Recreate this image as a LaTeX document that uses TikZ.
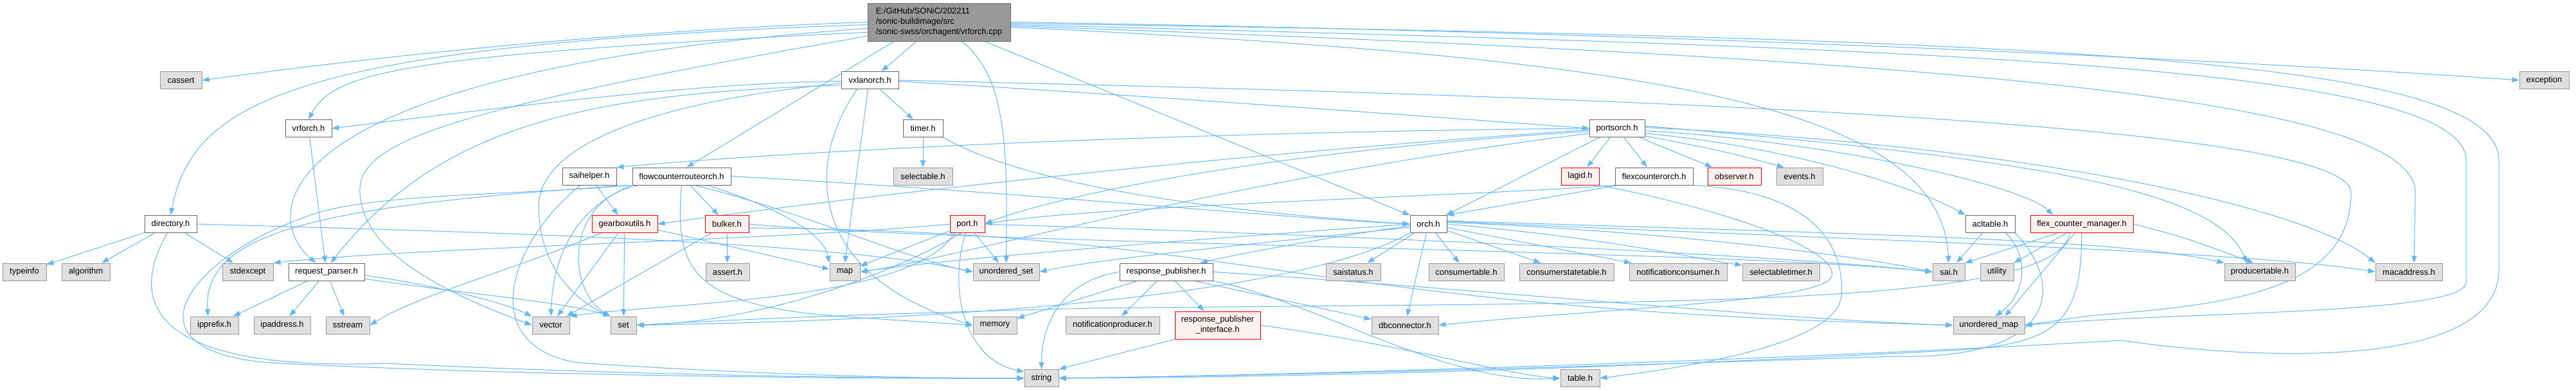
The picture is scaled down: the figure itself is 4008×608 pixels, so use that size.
\documentclass[tikz,border=0pt]{standalone}
\usepackage{fontspec}
\setmainfont{Liberation Sans}
\usetikzlibrary{arrows.meta}
\definecolor{edgec}{HTML}{63B8FF}
\definecolor{extfill}{HTML}{E0E0E0}
\definecolor{extdraw}{HTML}{999999}
\definecolor{docdraw}{HTML}{666666}
\definecolor{trfill}{HTML}{FFF0F0}
\definecolor{trdraw}{HTML}{FF0000}
\definecolor{mainfill}{HTML}{999999}
\pgfdeclarelayer{bg}
\pgfsetlayers{bg,main}
\begin{document}
\begin{tikzpicture}[x=1pt,y=-1pt,
  nbase/.style={draw, line width=1pt, inner sep=0pt, minimum height=27pt, font=\fontsize{13}{16}\selectfont},
  ext/.style={nbase, fill=extfill, draw=extdraw},
  doc/.style={nbase, fill=white, draw=docdraw},
  trn/.style={nbase, fill=trfill, draw=trdraw},
  e/.style={draw=edgec, line width=1pt, -{Triangle[length=11pt,width=8pt]}}]
\useasboundingbox (0,0) rectangle (4008,608);
% ---------- nodes ----------
\node[nbase, fill=mainfill, draw=docdraw, minimum width=222pt, minimum height=59pt, align=left] (top) at (1461,34.5) {E:/GitHub/SONiC/202211\\/sonic-buildimage/src\\/sonic-swss/orchagent/vrforch.cpp};
% row A
\node[ext, minimum width=65pt] (cassert) at (281.5,125) {cassert};
\node[doc, minimum width=89pt] (vxlan) at (1353.5,125) {vxlanorch.h};
\node[ext, minimum width=77pt] (exc) at (3958.5,125) {exception};
% row B
\node[doc, minimum width=72pt] (vrf) at (480,200) {vrforch.h};
\node[doc, minimum width=62pt] (timer) at (1436,200) {timer.h};
\node[doc, minimum width=86pt] (ports) at (2516,200) {portsorch.h};
% row C
\node[doc, minimum width=84pt] (saihlp) at (917,274.5) {saihelper.h};
\node[doc, minimum width=153pt] (fcr) at (1060.5,274.5) {flowcounterrouteorch.h};
\node[ext, minimum width=92pt] (selectable) at (1436,274.5) {selectable.h};
\node[trn, minimum width=59pt] (lagid) at (2458.5,274.5) {lagid.h};
\node[doc, minimum width=121pt] (fco) at (2573.5,274.5) {flexcounterorch.h};
\node[trn, minimum width=83pt] (observer) at (2698.5,274.5) {observer.h};
\node[ext, minimum width=72pt] (events) at (2800,274.5) {events.h};
% row D
\node[doc, minimum width=81pt] (dir) at (265.5,349) {directory.h};
\node[trn, minimum width=102pt] (gbx) at (972,349) {gearboxutils.h};
\node[trn, minimum width=68pt] (bulker) at (1131,349) {bulker.h};
\node[trn, minimum width=54pt] (port) at (1505,349) {port.h};
\node[doc, minimum width=57pt] (orch) at (2222.5,349) {orch.h};
\node[doc, minimum width=77pt] (acl) at (3096.5,349) {acltable.h};
\node[trn, minimum width=160pt] (fcm) at (3239,349) {flex\_counter\_manager.h};
% row E
\node[ext, minimum width=68pt] (typeinfo) at (38,423.5) {typeinfo};
\node[ext, minimum width=75pt] (algo) at (133.5,423.5) {algorithm};
\node[ext, minimum width=79pt] (stdexc) at (385.5,423.5) {stdexcept};
\node[doc, minimum width=118pt] (rqp) at (508,423.5) {request\_parser.h};
\node[ext, minimum width=68pt] (assert) at (1132,423.5) {assert.h};
\node[ext, minimum width=47pt] (hmap) at (1314.5,423.5) {map};
\node[ext, minimum width=103pt] (uset) at (1565.5,423.5) {unordered\_set};
\node[doc, minimum width=145pt] (rp) at (1814.5,423.5) {response\_publisher.h};
\node[ext, minimum width=85pt] (saistatus) at (2105.5,423.5) {saistatus.h};
\node[ext, minimum width=117pt] (ctable) at (2281.5,423.5) {consumertable.h};
\node[ext, minimum width=147pt] (cstable) at (2437.5,423.5) {consumerstatetable.h};
\node[ext, minimum width=152pt] (nconsumer) at (2611,423.5) {notificationconsumer.h};
\node[ext, minimum width=120pt] (stimer) at (2771,423.5) {selectabletimer.h};
\node[ext, minimum width=50pt] (sai) at (3032,423.5) {sai.h};
\node[ext, minimum width=52pt] (utility) at (3107,423.5) {utility};
\node[ext, minimum width=110pt] (ptable) at (3516,423.5) {producertable.h};
\node[ext, minimum width=104pt] (mac) at (3748,423.5) {macaddress.h};
% row F
\node[ext, minimum width=75pt] (ipprefix) at (333.5,506.5) {ipprefix.h};
\node[ext, minimum width=88pt] (ipaddr) at (439,506.5) {ipaddress.h};
\node[ext, minimum width=68pt] (sstream) at (541,506.5) {sstream};
\node[ext, minimum width=58pt] (vec) at (857,506.5) {vector};
\node[ext, minimum width=40pt] (hset) at (970,506.5) {set};
\node[ext, minimum width=68pt] (memory) at (1548,506.5) {memory};
\node[ext, minimum width=146pt] (nproducer) at (1731,506.5) {notificationproducer.h};
\node[trn, minimum width=133pt, minimum height=43pt, align=center] (rpi) at (1894.5,506.5) {response\_publisher\\\_interface.h};
\node[ext, minimum width=104pt] (dbc) at (2186,506.5) {dbconnector.h};
\node[ext, minimum width=111pt] (umap) at (3094.5,506.5) {unordered\_map};
% row G
\node[ext, minimum width=53pt] (hstring) at (1620.5,589) {string};
\node[ext, minimum width=61pt] (table) at (2458.5,589) {table.h};
% ---------- edges ----------
\begin{pgfonlayer}{bg}
\fill[white] (0,0) rectangle (4008,608);
% main file
\draw[e] (top.180) .. controls (900,50) and (500,100) .. (cassert.east);
\draw[e] ([xshift=-35pt]top.south) -- ([xshift=18pt]vxlan.north);
\draw[e] (top.east) .. controls (2600,50) and (3500,95) .. (exc.west);
\draw[e] (top.188) .. controls (640,85) and (520,110) .. (vrf.north);
\draw[e] (top.182) .. controls (450,70) and (300,160) .. (dir.north);
\draw[e] (top.185) .. controls (420,110) and (400,330) .. (rqp.140);
\draw[e] (top.191) .. controls (700,170) and (555,220) .. (560,300) .. controls (565,380) and (650,440) .. (vec.west);
\draw[e] ([xshift=-70pt]top.south) -- (fcr.60);
\draw[e] ([xshift=35pt]top.south) .. controls (1570,120) and (1567,250) .. (uset.north);
\draw[e] ([xshift=71pt]top.south) -- (orch.north west);
\draw[e] (top.356) .. controls (2600,90) and (3020,170) .. (sai.north);
\draw[e] (top.357) .. controls (3000,90) and (3758,150) .. (3758,300) -- ([xshift=8pt]mac.north);
\draw[e] (top.358) .. controls (3000,75) and (3837,100) .. (3837,250) -- (3837,440) .. controls (3837,490) and (3400,485) .. (umap.east);
\draw[e] (top.359) .. controls (3200,60) and (3888,90) .. (3888,250) -- (3888,420) .. controls (3888,580) and (3500,560) .. (3300,530) .. controls (2800,560) and (2000,585) .. (hstring.east);
% vxlanorch.h
\draw[e] (vxlan.182) .. controls (1100,128) and (800,165) .. (vrf.east);
\draw[e] (vxlan.190) .. controls (900,145) and (680,200) .. (rqp.65);
\draw[e] (vxlan) -- (timer);
\draw[e] (vxlan.358) .. controls (1800,150) and (2200,180) .. (ports.west);
\draw[e] (vxlan.east) .. controls (2500,150) and (3658,190) .. (3658,300) .. controls (3658,460) and (3450,475) .. (3250,492) -- (umap.east);
\draw[e] ([xshift=-3pt]vxlan.south) -- (hmap.north);
\draw[e] ([xshift=-20pt]vxlan.south) .. controls (1250,260) and (1260,430) .. (memory.west);
\draw[e] (vxlan.186) .. controls (1000,160) and (840,230) .. (838,320) .. controls (838,420) and (900,470) .. (hset.north west);
% vrforch.h, timer.h
\draw[e] (vrf) -- (rqp);
\draw[e] (timer) -- (selectable);
\draw[e] (timer.south east) .. controls (1600,290) and (1900,330) .. (orch.west);
% portsorch.h
\draw[e] (ports) -- (lagid);
\draw[e] (ports) -- (fco);
\draw[e] (ports) -- (observer);
\draw[e] (ports.345) .. controls (2680,235) .. (events.150);
\draw[e] (ports) -- (orch);
\draw[e] (ports.west) .. controls (1900,205) and (1300,230) .. (saihlp.north east);
\draw[e] (ports.183) .. controls (1900,240) and (1300,310) .. (gbx.east);
\draw[e] (ports.186) .. controls (1900,240) and (1600,320) .. (port.east);
\draw[e] (ports.190) .. controls (1900,280) and (1500,400) .. (hmap.east);
\draw[e] (ports.350) .. controls (2800,230) and (3000,300) .. (acl.north west);
\draw[e] (ports.355) .. controls (2850,220) and (3150,290) .. ([xshift=-45pt]fcm.north);
\draw[e] (ports.5) .. controls (3200,250) and (3450,300) .. ([xshift=-20pt]ptable.north);
\draw[e] (ports.2) .. controls (3200,230) and (3600,330) .. (mac.north west);
% lagid.h, flexcounterorch.h
\draw[e] (lagid.south east) .. controls (2700,330) and (2860,390) .. (2850,430) .. controls (2840,470) and (2500,480) .. (dbc.east);
\draw[e] ([xshift=5pt]fco.south west) -- (orch.north east);
\draw[e] (fco.south west) .. controls (2300,305) and (1700,320) .. (port.east);
\draw[e] (fco.south east) .. controls (2820,298) and (2870,380) .. (2865,460) .. controls (2860,540) and (2600,575) .. (table.east);
% directory.h
\draw[e] (dir) -- (typeinfo);
\draw[e] (dir) -- (algo);
\draw[e] (dir) -- (stdexc);
\draw[e] (dir.250) .. controls (210,450) and (200,580) .. (600,566) .. controls (1000,585) and (1400,590) .. (hstring.west);
\draw[e] (dir.east) .. controls (700,360) and (1300,375) .. (uset.west);
% request_parser.h
\draw[e] (rqp) -- (ipprefix);
\draw[e] (rqp) -- (ipaddr);
\draw[e] (rqp) -- (sstream);
\draw[e] (rqp.350) .. controls (700,455) and (880,470) .. (hset.north west);
\draw[e] (rqp.355) .. controls (680,445) and (780,470) .. (vec.north west);
% gearboxutils.h
\draw[e] (gbx) -- (vec);
\draw[e] (gbx) -- (hset);
\draw[e] (gbx.350) -- (hmap.170);
\draw[e] (gbx.201) .. controls (800,420) and (650,460) .. (sstream.east);
% bulker.h
\draw[e] (bulker) -- (assert);
\draw[e] (bulker) -- (vec);
\draw[e] (bulker.east) .. controls (1500,380) and (2700,390) .. (sai.west);
\draw[e] (bulker.350) .. controls (1950,360) and (1990,480) .. (umap.west);
% port.h
\draw[e] (port) -- (hmap);
\draw[e] (port) -- (uset);
\draw[e] (port.260) .. controls (1475,450) and (1500,560) .. (hstring.160);
\draw[e] (port.235) .. controls (1400,420) and (1200,500) .. (hset.east);
\draw[e] (port.215) .. controls (1420,470) and (1050,470) .. (vec.north east);
\draw[e] (port.west) .. controls (1200,375) and (650,385) .. (stdexc.north east);
\draw[e] (port.east) .. controls (2200,370) and (2800,400) .. (sai.west);
% flowcounterrouteorch.h
\draw[e] (fcr) -- (bulker);
\draw[e] (fcr.east) .. controls (1600,300) and (2000,340) .. (orch.west);
\draw[e] (fcr.south west) .. controls (880,330) and (860,420) .. (vec.north);
\draw[e] ([xshift=10pt]fcr.south west) .. controls (880,310) and (880,450) .. (hset.north west);
\draw[e] ([xshift=40pt]fcr.south) .. controls (1200,320) and (1280,360) .. (hmap.north west);
\draw[e] (fcr.south) .. controls (1050,420) and (1070,480) .. (1340,495) -- (memory.west);
\draw[e] ([xshift=20pt]fcr.south) .. controls (1250,330) and (1400,400) .. (uset.west);
\draw[e] ([xshift=-5pt]fcr.south west) .. controls (500,320) and (315,360) .. ([xshift=-10pt]ipprefix.north);
\draw[e] ([xshift=-3pt]fcr.south west) .. controls (800,305) and (560,300) .. (470,340) .. controls (300,400) and (180,545) .. (420,565) .. controls (800,585) and (1300,590) .. (hstring.west);
% saihelper.h
\draw[e] (saihlp) -- (gbx);
\draw[e] ([xshift=-14pt]saihlp.south) .. controls (790,380) and (740,540) .. (900,565) .. controls (1200,585) and (1450,590) .. (hstring.west);
% orch.h
\draw[e] (orch) -- (saistatus);
\draw[e] (orch) -- (ctable);
\draw[e] (orch) -- (cstable);
\draw[e] (orch) -- (nconsumer);
\draw[e] (orch.east) .. controls (2500,370) and (2650,405) .. (stimer.170);
\draw[e] (orch) -- (dbc);
\draw[e] (orch.5) .. controls (2600,360) and (2900,400) .. (sai.west);
\draw[e] (orch.10) .. controls (2900,365) and (3300,372) .. (ptable.north west);
\draw[e] (orch.8) .. controls (3000,378) and (3500,392) .. (mac.west);
\draw[e] (orch.west) .. controls (1900,370) and (1500,400) .. (hmap.east);
\draw[e] (orch.190) .. controls (1900,385) and (1700,405) .. (uset.east);
\draw[e] (orch.south west) .. controls (2000,470) and (1400,500) .. (hset.east);
\draw[e] (orch.185) .. controls (2100,365) and (1950,390) .. ([xshift=-20pt]rp.north east);
% response_publisher.h
\draw[e] (rp) -- (memory);
\draw[e] (rp) -- (nproducer);
\draw[e] (rp) -- (rpi);
\draw[e] (rp.west) .. controls (1640,440) and (1620,520) .. (hstring.north);
\draw[e] ([xshift=-29pt]rp.south east) -- (dbc.170);
\draw[e] (rp.south east) .. controls (2050,470) and (2250,600) .. (table.west);
\draw[e] (rp.east) .. controls (2300,450) and (2800,500) .. (umap.west);
% response_publisher_interface.h
\draw[e] (rpi.south west) -- (hstring.north east);
\draw[e] (rpi.east) .. controls (2200,540) and (2350,585) .. (table.west);
% acltable.h
\draw[e] (acl) -- (sai);
\draw[e] ([xshift=-15pt]acl.south east) .. controls (3160,400) and (3150,460) .. ([xshift=10pt]umap.north);
\draw[e] (acl.south east) .. controls (3210,440) and (3210,560) .. (2950,555) .. controls (2500,570) and (2000,585) .. (hstring.east);
% flex_counter_manager.h
\draw[e] ([xshift=43pt]fcm.south west) -- (sai.north east);
\draw[e] ([xshift=57pt]fcm.south west) -- (utility.north east);
\draw[e] ([xshift=70pt]fcm.south west) -- ([xshift=25pt]umap.north);
\draw[e] ([xshift=62pt]fcm.south west) .. controls (3200,480) and (2600,470) .. (1700,480) .. controls (1300,490) and (1100,500) .. (hset.east);
\draw[e] ([xshift=80pt]fcm.south west) .. controls (3240,500) and (3200,535) .. (3050,545) .. controls (2500,575) and (2000,588) .. (hstring.east);
\draw[e] (fcm.east) .. controls (3400,370) .. ([xshift=-10pt]ptable.north);
\end{pgfonlayer}
\end{tikzpicture}
\end{document}
